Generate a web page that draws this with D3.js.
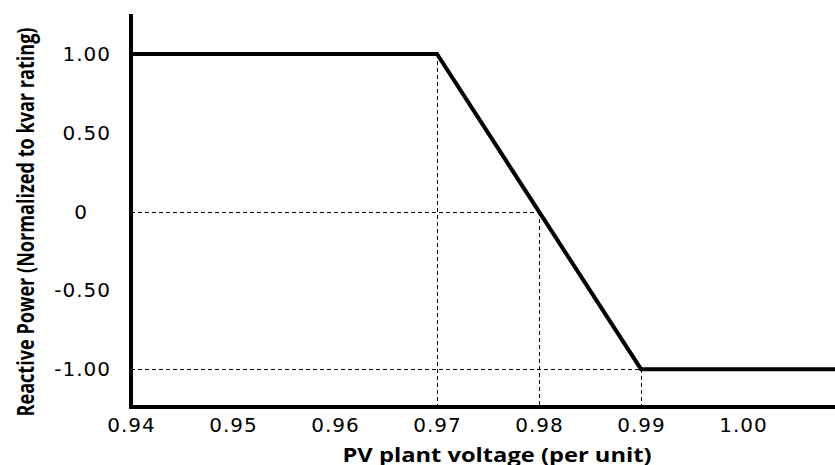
<!DOCTYPE html>
<meta charset="utf-8">
<style>
body { margin: 0; background: #fff; }
.tick-label { font-family: 'DejaVu Sans', Verdana, sans-serif; font-size: 20px; letter-spacing: 1px; fill: #000; }
.axis-title { font-family: 'Open Sans', sans-serif; font-weight: bold; fill: #000; }
.guide { stroke: #000; stroke-width: 1; stroke-dasharray: 4,3; fill: none; shape-rendering: crispEdges; }
</style>
<html>
  <body>
    <svg width="835" height="465"></svg>
  </body>
</html>
<script src="https://d3js.org/d3.v7.min.js"></script>
<script>

// volt-var curve: reactive power vs PV plant voltage
var voltage = [0.94, 0.97, 0.98, 0.99, 1.01];
var reactive = [1.00, 1.00, 0, -1.00, -1.00];

// the break points that get dashed guide lines
var guideVoltage = [0.97, 0.98, 0.99];
var guideReactive = [1.00, 0, -1.00];

var xTicks = [0.94, 0.95, 0.96, 0.97, 0.98, 0.99, 1.00];
var xTickLabels = ["0.94", "0.95", "0.96", "0.97", "0.98", "0.99", "1.00"];
var yTicks = [1.00, 0.50, 0, -0.50, -1.00];
var yTickLabels = ["1.00", "0.50", "0", "-0.50", "-1.00"];

(function() {
  var svg = d3.select("svg"),
      width = +svg.attr("width"),
      height = +svg.attr("height");

  var x = d3.scaleLinear().domain([0.94, 1.00902]).range([131, width]);
  var y = d3.scaleLinear().domain([-1.24, 1.254]).range([407, 14]);

  function px(v) { return Math.round(v) + 0.5; }

  svg.append("clipPath")
      .attr("id", "plot")
    .append("rect")
      .attr("x", x(0.94))
      .attr("y", 0)
      .attr("width", width - x(0.94))
      .attr("height", y(-1.24));

  // dashed guides: vertical from each break point down to the axis
  svg.append("g")
    .selectAll("line.v")
    .data(guideVoltage)
    .enter().append("line")
      .attr("class", "guide")
      .attr("x1", function(d) { return px(x(d)); })
      .attr("x2", function(d) { return px(x(d)); })
      .attr("y1", function(d, i) { return y(guideReactive[i]); })
      .attr("y2", y(-1.24));

  // horizontal guides from the y axis (skip the top one, the curve covers it)
  svg.append("g")
    .selectAll("line.h")
    .data(guideVoltage.slice(1))
    .enter().append("line")
      .attr("class", "guide")
      .attr("x1", x(0.94))
      .attr("x2", function(d) { return x(d); })
      .attr("y1", function(d, i) { return px(y(guideReactive[i + 1])); })
      .attr("y2", function(d, i) { return px(y(guideReactive[i + 1])); });

  var line = d3.line()
      .x(function(d) { return x(d[0]); })
      .y(function(d) { return y(d[1]); });

  svg.append("path")
      .datum(d3.zip(voltage, reactive))
      .attr("clip-path", "url(#plot)")
      .attr("d", line)
      .attr("fill", "none")
      .attr("stroke", "#000")
      .attr("stroke-width", 4)
      .attr("stroke-linejoin", "miter");

  // axes
  var xAxis = d3.axisBottom(x)
      .tickValues(xTicks)
      .tickSize(0)
      .tickPadding(11)
      .tickFormat(function(d, i) { return xTickLabels[i]; });

  var gx = svg.append("g")
      .attr("transform", "translate(0," + y(-1.24) + ")")
      .call(xAxis);
  gx.select(".domain").remove();
  gx.selectAll("text").attr("class", "tick-label").attr("font-size", null).attr("font-family", null);

  var yAxis = d3.axisLeft(y)
      .tickValues(yTicks)
      .tickSize(0)
      .tickPadding(20)
      .tickFormat(function(d, i) { return yTickLabels[i]; });

  var gy = svg.append("g")
      .attr("transform", "translate(" + x(0.94) + ",0)")
      .call(yAxis);
  gy.select(".domain").remove();
  gy.selectAll("text")
      .attr("class", "tick-label")
      .attr("font-size", null)
      .attr("font-family", null)
      .attr("dx", function(d) { return d === 0 ? -23 : 0; });

  svg.append("line")
      .attr("x1", x(0.94)).attr("x2", x(0.94))
      .attr("y1", y(1.254)).attr("y2", y(-1.24) + 2)
      .attr("stroke", "#000").attr("stroke-width", 4);

  svg.append("line")
      .attr("x1", x(0.94) - 2).attr("x2", width)
      .attr("y1", y(-1.24)).attr("y2", y(-1.24))
      .attr("stroke", "#000").attr("stroke-width", 4);

  svg.append("text")
      .attr("class", "axis-title")
      .attr("x", 497)
      .attr("y", 462)
      .attr("text-anchor", "middle")
      .attr("font-size", 20)
      .attr("textLength", 309)
      .attr("lengthAdjust", "spacingAndGlyphs")
      .text("PV plant voltage (per unit)");

  svg.append("text")
      .attr("class", "axis-title")
      .attr("transform", "translate(34,222) rotate(-90)")
      .attr("text-anchor", "middle")
      .attr("font-size", 24)
      .attr("textLength", 389)
      .attr("lengthAdjust", "spacingAndGlyphs")
      .text("Reactive Power (Normalized to kvar rating)");
})();

</script>
